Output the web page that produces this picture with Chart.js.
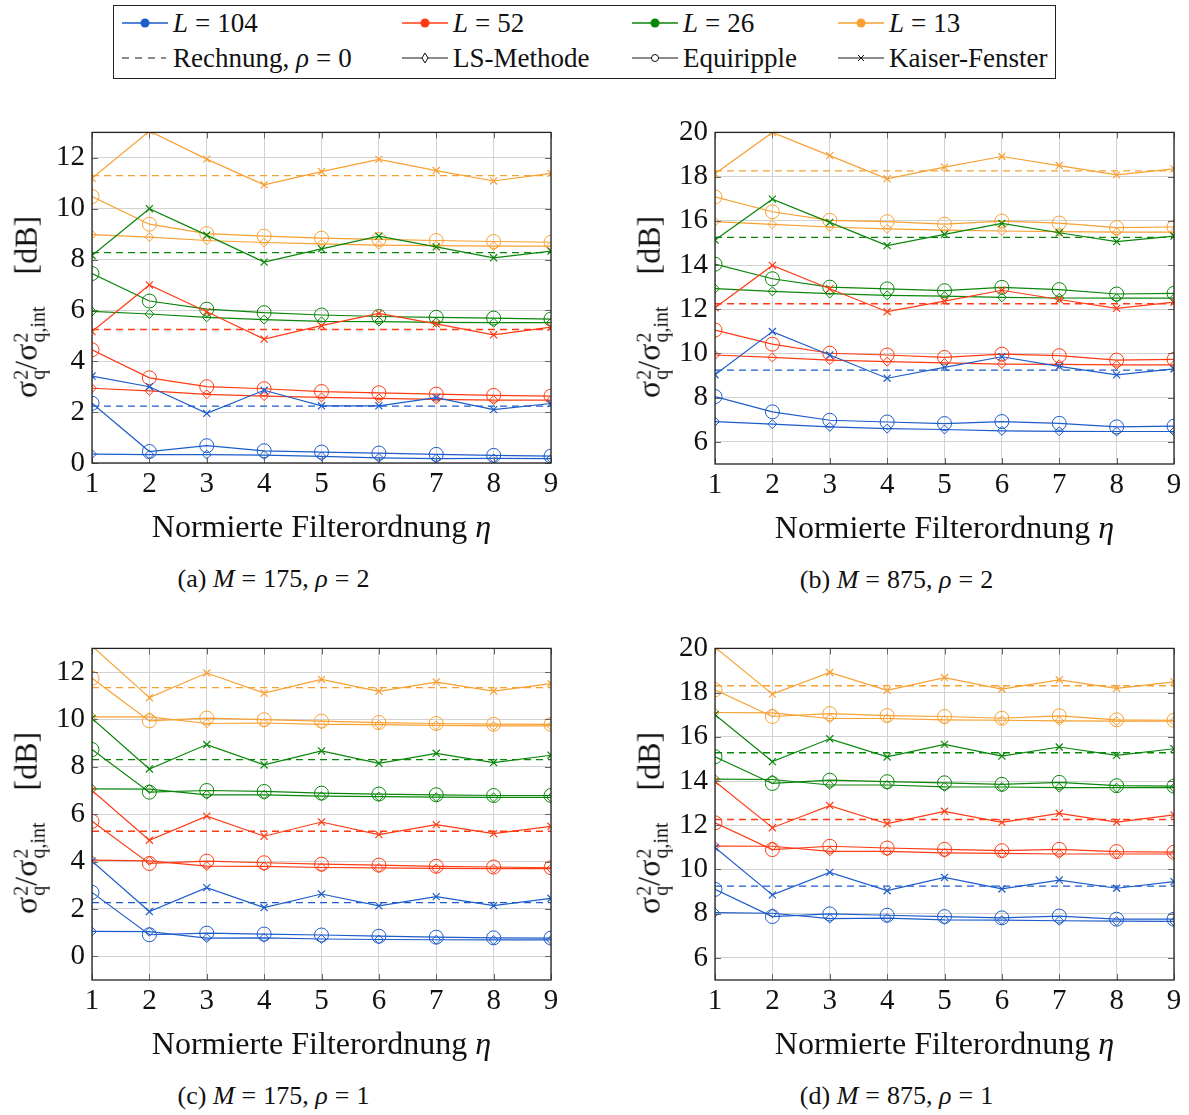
<!DOCTYPE html>
<html>
<head>
<meta charset="utf-8">
<script src="https://cdn.jsdelivr.net/npm/chart.js@4.4.1/dist/chart.umd.min.js"></script>
<style>
body { margin: 0; background: #fff; font-family: "Liberation Serif", "Times New Roman", serif; color: #111; }
#wrap { position: relative; width: 1189px; height: 1115px; overflow: hidden; }
canvas { position: absolute; }
.xtitle { position: absolute; font-size: 32px; white-space: nowrap; transform: translate(-50%, -50%); }
.caption { position: absolute; font-size: 26px; white-space: nowrap; transform: translate(-50%, -50%); }
.ytitle { position: absolute; font-size: 32px; white-space: nowrap; transform: translate(-50%, -50%) rotate(-90deg); }
.ss { display: inline-block; vertical-align: middle; line-height: 0.85; font-size: 20px; text-align: left; margin-left: 1px; }
.ss span { display: block; }
.eq { margin: 0 7px; }
#legend { position: absolute; left: 113px; top: 5px; width: 943px; height: 74px; border: 1px solid #222; box-sizing: border-box; }
.item { position: absolute; display: flex; align-items: center; font-size: 27px; white-space: nowrap; height: 30px; }
.item svg { margin-right: 4px; }
i { font-style: italic; }
#preload { position: absolute; left: -500px; top: 0; font-family: "Liberation Serif"; font-size: 25px; }
</style>
</head>
<body>
<div id="wrap">
  <div id="legend"></div>
</div>
<div id="preload">0123456789</div>
<script>
const serif = "'Liberation Serif', 'Times New Roman', serif";
Chart.defaults.font.family = serif;

// normierte Filterordnung
const eta = [1, 2, 3, 4, 5, 6, 7, 8, 9];
const Ls = ['104', '52', '26', '13'];
const colors = ['#1d5ccb', '#ff3b14', '#0a860a', '#f8a032'];

// (a) M = 175, rho = 2
const a_calc = [2.24, 5.25, 8.27, 11.3];
const a_ls_104 = [0.35, 0.33, 0.33, 0.31, 0.26, 0.20, 0.17, 0.18, 0.17];
const a_eq_104 = [2.35, 0.45, 0.68, 0.48, 0.43, 0.39, 0.34, 0.30, 0.27];
const a_ks_104 = [3.42, 3.00, 1.95, 2.86, 2.25, 2.25, 2.57, 2.10, 2.34];
const a_ls_52 = [2.94, 2.84, 2.70, 2.63, 2.58, 2.54, 2.50, 2.47, 2.47];
const a_eq_52 = [4.45, 3.35, 3.00, 2.92, 2.81, 2.76, 2.71, 2.66, 2.63];
const a_ks_52 = [5.17, 7.00, 5.95, 4.87, 5.40, 5.88, 5.47, 5.04, 5.34];
const a_ls_26 = [5.96, 5.86, 5.73, 5.64, 5.57, 5.56, 5.53, 5.52, 5.52];
const a_eq_26 = [7.45, 6.37, 6.05, 5.91, 5.82, 5.76, 5.73, 5.70, 5.66];
const a_ks_26 = [8.16, 10.00, 8.96, 7.90, 8.42, 8.92, 8.50, 8.07, 8.33];
const a_ls_13 = [8.98, 8.88, 8.75, 8.67, 8.62, 8.57, 8.55, 8.53, 8.53];
const a_eq_13 = [10.48, 9.39, 9.02, 8.92, 8.84, 8.79, 8.75, 8.71, 8.68];
const a_ks_13 = [11.20, 13.05, 11.95, 10.94, 11.46, 11.94, 11.50, 11.09, 11.39];

// (b) M = 875, rho = 2
const b_calc = [9.25, 12.25, 15.25, 18.26];
const b_ls_104 = [6.92, 6.80, 6.68, 6.60, 6.56, 6.50, 6.48, 6.47, 6.47];
const b_eq_104 = [8.05, 7.36, 6.98, 6.90, 6.83, 6.92, 6.84, 6.68, 6.71];
const b_ks_104 = [9.04, 10.99, 9.93, 8.88, 9.37, 9.85, 9.42, 9.03, 9.30];
const b_ls_52 = [9.93, 9.82, 9.70, 9.63, 9.57, 9.52, 9.51, 9.48, 9.48];
const b_eq_52 = [11.06, 10.42, 10.01, 9.93, 9.82, 9.97, 9.90, 9.70, 9.73];
const b_ks_52 = [12.07, 13.98, 12.93, 11.89, 12.37, 12.86, 12.44, 12.04, 12.32];
const b_ls_26 = [12.93, 12.81, 12.71, 12.63, 12.59, 12.54, 12.51, 12.50, 12.50];
const b_eq_26 = [14.04, 13.38, 13.00, 12.92, 12.84, 12.99, 12.89, 12.69, 12.72];
const b_ks_26 = [15.13, 16.98, 15.93, 14.88, 15.39, 15.88, 15.46, 15.06, 15.31];
const b_ls_13 = [15.96, 15.84, 15.72, 15.64, 15.58, 15.54, 15.51, 15.49, 15.49];
const b_eq_13 = [17.08, 16.41, 16.02, 15.96, 15.85, 15.99, 15.90, 15.69, 15.72];
const b_ks_13 = [18.13, 20.00, 18.95, 17.90, 18.43, 18.91, 18.50, 18.08, 18.35];

// (c) M = 175, rho = 1
const c_calc = [2.27, 5.28, 8.30, 11.34];
const c_ls_104 = [1.05, 1.04, 0.77, 0.78, 0.73, 0.71, 0.70, 0.69, 0.69];
const c_eq_104 = [2.70, 0.91, 0.98, 0.94, 0.90, 0.85, 0.81, 0.78, 0.77];
const c_ks_104 = [4.02, 1.89, 2.90, 2.06, 2.63, 2.13, 2.52, 2.14, 2.45];
const c_ls_52 = [4.06, 4.03, 3.81, 3.80, 3.75, 3.73, 3.71, 3.70, 3.70];
const c_eq_52 = [5.70, 3.92, 4.02, 3.95, 3.89, 3.85, 3.80, 3.77, 3.74];
const c_ks_52 = [7.00, 4.90, 5.92, 5.07, 5.67, 5.14, 5.56, 5.18, 5.49];
const c_ls_26 = [7.07, 7.06, 6.82, 6.82, 6.76, 6.74, 6.72, 6.71, 6.71];
const c_eq_26 = [8.73, 6.93, 7.00, 6.96, 6.89, 6.85, 6.82, 6.79, 6.79];
const c_ks_26 = [10.04, 7.91, 8.94, 8.08, 8.67, 8.15, 8.57, 8.18, 8.49];
const c_ls_13 = [10.11, 10.11, 9.83, 9.85, 9.79, 9.78, 9.75, 9.73, 9.73];
const c_eq_13 = [11.74, 9.94, 10.06, 9.99, 9.93, 9.87, 9.83, 9.80, 9.79];
const c_ks_13 = [13.10, 10.92, 11.96, 11.11, 11.69, 11.19, 11.58, 11.20, 11.51];

// (d) M = 875, rho = 1
const d_calc = [9.25, 12.26, 15.28, 18.31];
const d_ls_104 = [8.05, 8.02, 7.78, 7.80, 7.72, 7.71, 7.68, 7.66, 7.65];
const d_eq_104 = [9.10, 7.87, 7.99, 7.93, 7.87, 7.81, 7.89, 7.75, 7.75];
const d_ks_104 = [10.99, 8.85, 9.87, 9.04, 9.64, 9.12, 9.52, 9.15, 9.45];
const d_ls_52 = [11.06, 11.05, 10.82, 10.82, 10.75, 10.73, 10.70, 10.70, 10.70];
const d_eq_52 = [12.11, 10.90, 11.05, 10.97, 10.91, 10.85, 10.91, 10.81, 10.78];
const d_ks_52 = [13.98, 11.89, 12.89, 12.07, 12.63, 12.13, 12.54, 12.14, 12.47];
const d_ls_26 = [14.09, 14.07, 13.82, 13.82, 13.74, 13.73, 13.70, 13.70, 13.70];
const d_eq_26 = [15.10, 13.89, 14.04, 13.97, 13.92, 13.85, 13.94, 13.79, 13.77];
const d_ks_26 = [17.00, 14.88, 15.91, 15.09, 15.66, 15.13, 15.54, 15.16, 15.46];
const d_ls_13 = [17.10, 17.08, 16.83, 16.83, 16.77, 16.75, 16.72, 16.71, 16.71];
const d_eq_13 = [18.13, 16.92, 17.05, 16.96, 16.92, 16.84, 16.95, 16.77, 16.75];
const d_ks_13 = [20.05, 17.93, 18.91, 18.10, 18.68, 18.16, 18.58, 18.19, 18.49];

// y tick labels
const ticksLow = [0, 2, 4, 6, 8, 10, 12];
const ticksHigh = [6, 8, 10, 12, 14, 16, 18, 20];

const panels = [
    { left: 92, top: 130, right: 551, bottom: 463, ymin: 0, ymax: 13, yticks: ticksLow,
      calc: a_calc, ls: [a_ls_104, a_ls_52, a_ls_26, a_ls_13], eq: [a_eq_104, a_eq_52, a_eq_26, a_eq_13], ks: [a_ks_104, a_ks_52, a_ks_26, a_ks_13],
      tag: '(a)', M: '175', rho: '2' },
    { left: 715, top: 130, right: 1174, bottom: 464, ymin: 5, ymax: 20, yticks: ticksHigh,
      calc: b_calc, ls: [b_ls_104, b_ls_52, b_ls_26, b_ls_13], eq: [b_eq_104, b_eq_52, b_eq_26, b_eq_13], ks: [b_ks_104, b_ks_52, b_ks_26, b_ks_13],
      tag: '(b)', M: '875', rho: '2' },
    { left: 92, top: 646, right: 551, bottom: 980, ymin: -1, ymax: 13, yticks: ticksLow,
      calc: c_calc, ls: [c_ls_104, c_ls_52, c_ls_26, c_ls_13], eq: [c_eq_104, c_eq_52, c_eq_26, c_eq_13], ks: [c_ks_104, c_ks_52, c_ks_26, c_ks_13],
      tag: '(c)', M: '175', rho: '1' },
    { left: 715, top: 646, right: 1174, bottom: 980, ymin: 5, ymax: 20, yticks: ticksHigh,
      calc: d_calc, ls: [d_ls_104, d_ls_52, d_ls_26, d_ls_13], eq: [d_eq_104, d_eq_52, d_eq_26, d_eq_13], ks: [d_ks_104, d_ks_52, d_ks_26, d_ks_13],
      tag: '(d)', M: '875', rho: '1' }
];

const PAD_TOP = 22, PAD_RIGHT = 20, Y_W = 50, X_H = 45;
const tickFont = { family: serif, size: 29 };

// full box + small inward ticks like pgfplots
const framePlugin = {
    id: 'frame',
    afterDatasetsDraw(chart) {
        const ctx = chart.ctx, a = chart.chartArea, sx = chart.scales.x, sy = chart.scales.y;
        ctx.save();
        ctx.strokeStyle = '#666';
        ctx.lineWidth = 1;
        ctx.beginPath();
        sx.ticks.forEach(t => {
            const p = Math.round(sx.getPixelForValue(t.value)) + 0.5;
            ctx.moveTo(p, a.bottom); ctx.lineTo(p, a.bottom - 6);
            ctx.moveTo(p, a.top); ctx.lineTo(p, a.top + 6);
        });
        sy.ticks.forEach(t => {
            const p = Math.round(sy.getPixelForValue(t.value)) + 0.5;
            ctx.moveTo(a.left, p); ctx.lineTo(a.left + 6, p);
            ctx.moveTo(a.right, p); ctx.lineTo(a.right - 6, p);
        });
        ctx.stroke();
        ctx.strokeStyle = '#222';
        ctx.lineWidth = 1.3;
        ctx.strokeRect(a.left, a.top, a.right - a.left, a.bottom - a.top);
        ctx.restore();
    }
};

function pts(arr) {
    return arr.map((v, j) => ({ x: eta[j], y: v }));
}

function buildSets(p) {
    let sets = [];
    for (let i = 0; i < 4; i++) {
        const c = colors[i];
        sets.push({ label: 'calc ' + Ls[i], data: [{ x: eta[0], y: p.calc[i] }, { x: eta[eta.length - 1], y: p.calc[i] }],
            borderColor: c, borderWidth: 1.3, borderDash: [7, 5], pointRadius: 0 });
        sets.push({ label: 'LS ' + Ls[i], data: pts(p.ls[i]), borderColor: c, borderWidth: 1.2,
            pointStyle: 'rectRot', pointRadius: 4.5, pointBorderWidth: 1, pointBorderColor: c, pointBackgroundColor: 'rgba(0,0,0,0)' });
        sets.push({ label: 'EQ ' + Ls[i], data: pts(p.eq[i]), borderColor: c, borderWidth: 1.2,
            pointStyle: 'circle', pointRadius: 7, pointBorderWidth: 1, pointBorderColor: c, pointBackgroundColor: 'rgba(0,0,0,0)' });
        sets.push({ label: 'KS ' + Ls[i], data: pts(p.ks[i]), borderColor: c, borderWidth: 1.2,
            pointStyle: 'crossRot', pointRadius: 5, pointBorderWidth: 1.2, pointBorderColor: c });
    }
    return sets;
}

const wrap = document.getElementById('wrap');

function drawPanel(p) {
    const w = p.right - p.left + Y_W + PAD_RIGHT;
    const h = p.bottom - p.top + PAD_TOP + X_H;
    const cv = document.createElement('canvas');
    cv.width = w; cv.height = h;
    cv.style.left = (p.left - Y_W) + 'px';
    cv.style.top = (p.top - PAD_TOP) + 'px';
    cv.style.width = w + 'px';
    cv.style.height = h + 'px';
    wrap.appendChild(cv);

    new Chart(cv, {
        type: 'line',
        data: { datasets: buildSets(p) },
        options: {
            responsive: false,
            animation: false,
            layout: { padding: { top: PAD_TOP, right: PAD_RIGHT, left: 0, bottom: 0 } },
            plugins: { legend: { display: false }, tooltip: { enabled: false } },
            elements: { line: { tension: 0 } },
            scales: {
                x: {
                    type: 'linear', min: 1, max: 9,
                    ticks: { stepSize: 1, padding: 4, color: '#111', font: tickFont },
                    grid: { color: '#d2d2d2', lineWidth: 1, drawTicks: false },
                    border: { display: false },
                    afterFit: s => { s.height = X_H; }
                },
                y: {
                    type: 'linear', min: p.ymin, max: p.ymax,
                    afterBuildTicks: s => { s.ticks = p.yticks.map(v => ({ value: v })); },
                    ticks: { padding: 7, color: '#111', font: tickFont },
                    grid: { color: '#d2d2d2', lineWidth: 1, drawTicks: false },
                    border: { display: false },
                    afterFit: s => { s.width = Y_W; }
                }
            }
        },
        plugins: [framePlugin]
    });

    const cx = (p.left + p.right) / 2;
    const cy = (p.top + p.bottom) / 2;

    const xt = document.createElement('div');
    xt.className = 'xtitle';
    xt.innerHTML = 'Normierte Filterordnung <i>η</i>';
    xt.style.left = cx + 'px';
    xt.style.top = (p.bottom + 63) + 'px';
    wrap.appendChild(xt);

    const cap = document.createElement('div');
    cap.className = 'caption';
    cap.innerHTML = p.tag + ' <i>M</i><span class="eq">=</span>' + p.M + ', <i>ρ</i><span class="eq">=</span>' + p.rho;
    cap.style.left = (cx - 48) + 'px';
    cap.style.top = (p.bottom + 116) + 'px';
    wrap.appendChild(cap);

    const yt = document.createElement('div');
    yt.className = 'ytitle';
    yt.innerHTML = 'σ<span class="ss"><span>2</span><span>q</span></span>/σ<span class="ss"><span>2</span><span>q,int</span></span>&emsp;[dB]';
    yt.style.left = (p.left - 65) + 'px';
    yt.style.top = (cy + 10) + 'px';
    wrap.appendChild(yt);
}

// legend
const leg = document.getElementById('legend');
function addItem(x, y, svg, html) {
    const d = document.createElement('div');
    d.className = 'item';
    d.style.left = (x - 113) + 'px';
    d.style.top = (y - 5 - 15) + 'px';
    d.innerHTML = svg + '<span>' + html + '</span>';
    leg.appendChild(d);
}
const colX = [120, 400, 630, 836];
colors.forEach((c, i) => {
    const svg = '<svg width="48" height="14"><line x1="1" y1="7" x2="47" y2="7" stroke="' + c + '" stroke-width="1.5"/><circle cx="24" cy="7" r="4.5" fill="' + c + '"/></svg>';
    addItem(colX[i], 22, svg, '<i>L</i><span class="eq">=</span>' + Ls[i]);
});
const gl = '<line x1="1" y1="7" x2="47" y2="7" stroke="#666" stroke-width="1.5"/>';
addItem(colX[0], 57, '<svg width="48" height="14"><line x1="1" y1="7" x2="45" y2="7" stroke="#666" stroke-width="1.5" stroke-dasharray="7,6"/></svg>',
    'Rechnung, <i>ρ</i><span class="eq">=</span>0');
addItem(colX[1], 57, '<svg width="48" height="14">' + gl + '<polygon points="24,2 27,7 24,12 21,7" fill="#fff" stroke="#111" stroke-width="1"/></svg>', 'LS-Methode');
addItem(colX[2], 57, '<svg width="48" height="14">' + gl + '<circle cx="24" cy="7" r="3.5" fill="#fff" stroke="#111" stroke-width="1"/></svg>', 'Equiripple');
addItem(colX[3], 57, '<svg width="48" height="14">' + gl + '<path d="M21,4 L27,10 M27,4 L21,10" stroke="#111" stroke-width="1"/></svg>', 'Kaiser-Fenster');

// make sure the serif face is ready before the canvases draw text
document.fonts.load('29px "Liberation Serif"').then(() => {
    panels.forEach(drawPanel);
});
</script>
</body>
</html>
